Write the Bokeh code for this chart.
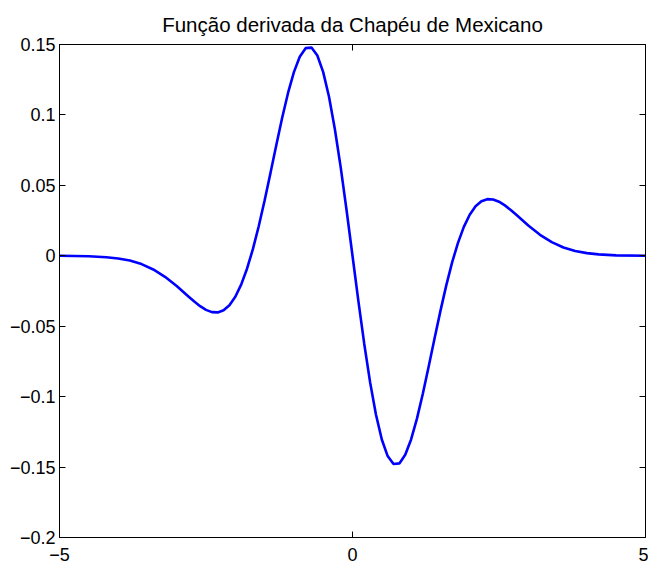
from bokeh.plotting import figure
from bokeh.models import LinearAxis, FixedTicker, Range1d
from bokeh.embed import file_html
from bokeh.resources import INLINE

title_text = "Função derivada da Chapéu de Mexicano"

x_vals = [-5.0, -4.5, -4.2, -4.0, -3.8, -3.6, -3.4, -3.2, -3.0, -2.9, -2.8, -2.7,
          -2.6, -2.5, -2.4, -2.3, -2.2, -2.1, -2.0, -1.9, -1.8, -1.7, -1.6, -1.5,
          -1.4, -1.3, -1.2, -1.1, -1.0, -0.9, -0.8, -0.7, -0.6, -0.5, -0.4, -0.3,
          -0.2, -0.1, 0.0, 0.1, 0.2, 0.3, 0.4, 0.5, 0.6, 0.7, 0.8, 0.9, 1.0, 1.1,
          1.2, 1.3, 1.4, 1.5, 1.6, 1.7, 1.8, 1.9, 2.0, 2.1, 2.2, 2.3, 2.4, 2.5,
          2.6, 2.7, 2.8, 2.9, 3.0, 3.2, 3.4, 3.6, 3.8, 4.0, 4.2, 4.5, 5.0]

y_vals = [0.0, -0.0003, -0.0010, -0.0019, -0.0034, -0.0059, -0.0097, -0.0149,
          -0.0215, -0.0252, -0.0289, -0.0325, -0.0358, -0.0384, -0.0400, -0.0402,
          -0.0387, -0.0351, -0.0291, -0.0205, -0.0092, 0.0047, 0.0210, 0.0393,
          0.0587, 0.0786, 0.0980, 0.1156, 0.1304, 0.1413, 0.1474, 0.1478, 0.1422,
          0.1304, 0.1127, 0.0897, 0.0624, 0.0320, 0.0,
          -0.0320, -0.0624, -0.0897, -0.1127, -0.1304, -0.1422, -0.1478, -0.1474,
          -0.1413, -0.1304, -0.1156, -0.0980, -0.0786, -0.0587, -0.0393, -0.0210,
          -0.0047, 0.0092, 0.0205, 0.0291, 0.0351, 0.0387, 0.0402, 0.0400, 0.0384,
          0.0358, 0.0325, 0.0289, 0.0252, 0.0215, 0.0149, 0.0097, 0.0059, 0.0034,
          0.0019, 0.0010, 0.0003, 0.0]

x_ticks = [-5, 0, 5]
x_tick_labels = ["−5", "0", "5"]
y_ticks = [-0.2, -0.15, -0.1, -0.05, 0, 0.05, 0.1, 0.15]
y_tick_labels = ["−0.2", "−0.15", "−0.1", "−0.05", "0", "0.05", "0.1", "0.15"]

FONT = "Liberation Sans"

p = figure(width=648, height=568, output_backend="svg", toolbar_location=None,
           x_range=Range1d(-5, 5), y_range=Range1d(-0.2, 0.15),
           min_border_left=59, min_border_right=3, min_border_top=44,
           min_border_bottom=31)
p.xgrid.visible = False
p.ygrid.visible = False
p.outline_line_color = "black"
p.outline_line_width = 1
p.background_fill_color = "white"
p.border_fill_color = "white"

p.title.text = title_text
p.title.align = "center"
p.title.text_font = FONT
p.title.text_font_size = "20.5px"
p.title.text_font_style = "normal"
p.title.text_color = "black"
p.title.text_line_height = 0.75
p.title.standoff = 18

p.line(x_vals, y_vals, line_color="#0000ff", line_width=2.6)


def style_axis(ax, ticks, labels, show):
    ax.ticker = FixedTicker(ticks=ticks)
    ax.major_label_overrides = {t: (l if show else "") for t, l in zip(ticks, labels)}
    ax.major_tick_in = 6
    ax.major_tick_out = 0
    ax.minor_tick_in = 0
    ax.minor_tick_out = 0
    ax.axis_line_color = "black"
    ax.major_tick_line_color = "black"
    ax.major_label_text_font = FONT
    ax.major_label_text_color = "black"
    ax.major_label_text_font_size = "18px" if show else "1px"


style_axis(p.xaxis[0], x_ticks, x_tick_labels, True)
p.xaxis[0].major_label_standoff = 10
style_axis(p.yaxis[0], y_ticks, y_tick_labels, True)
p.yaxis[0].major_label_standoff = 4

top_ax = LinearAxis()
style_axis(top_ax, x_ticks, x_tick_labels, False)
top_ax.major_label_standoff = 0
p.add_layout(top_ax, "above")

right_ax = LinearAxis()
style_axis(right_ax, y_ticks, y_tick_labels, False)
right_ax.major_label_standoff = 0
p.add_layout(right_ax, "right")

open("out.html", "w").write(file_html(p, INLINE))
